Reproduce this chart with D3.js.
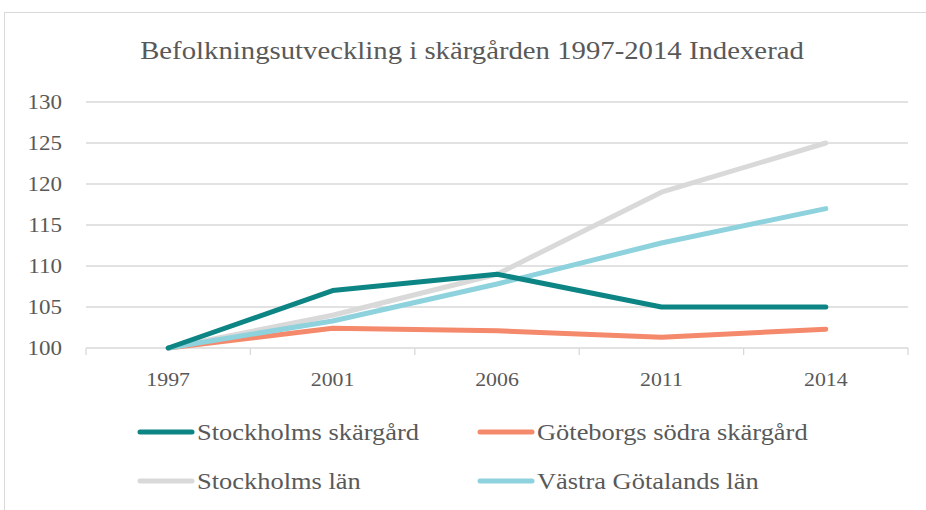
<!DOCTYPE html>
<html>
<head>
<meta charset="utf-8">
<script src="https://cdn.jsdelivr.net/npm/d3@7"></script>
<style>
  body { margin: 0; background: #fff; }
</style>
</head>
<body>
<div id="chart"></div>
<script>
const years = ["1997", "2001", "2006", "2011", "2014"];
const seriesNames = ["Stockholms skärgård", "Göteborgs södra skärgård", "Stockholms län", "Västra Götalands län"];
const stockholmsSkargard = [100, 107, 109, 105, 105];
const goteborgsSkargard = [100, 102.4, 102.1, 101.3, 102.3];
const stockholmsLan = [100, 104, 109, 119, 125];
const vastraGotaland = [100, 103.3, 107.8, 112.8, 117];
const yTicks = [100, 105, 110, 115, 120, 125, 130];
const colors = ["#0e8585", "#f4896b", "#d9d9d9", "#8dd2dc"];

const width = 926, height = 510;
const margin = { left: 86, right: 18, top: 102, bottom: 162 };
const FONT = "Liberation Serif";
const STRETCH = 1.15; // widen Liberation Serif toward the Palatino look
const TEXT_COLOR = "#595959";

const svg = d3.select("#chart").append("svg")
  .attr("width", width).attr("height", height)
  .style("display", "block");

// chart frame
svg.append("rect")
  .attr("x", 4.5).attr("y", 12.5)
  .attr("width", width + 10).attr("height", height + 10)
  .attr("fill", "none").attr("stroke", "#d9d9d9");

function label(sel, x, y, size, anchor) {
  return sel.append("text")
    .attr("transform", `translate(${x},${y}) scale(${STRETCH},1)`)
    .attr("text-anchor", anchor)
    .attr("font-family", FONT)
    .attr("font-size", size)
    .attr("fill", TEXT_COLOR);
}

label(svg, 472, 59, 25, "middle")
  .text("Befolkningsutveckling i skärgården 1997-2014 Indexerad");

const x = d3.scaleBand().domain(years).range([margin.left, width - margin.right]);
const y = d3.scaleLinear().domain([100, 130]).range([height - margin.bottom, margin.top]);

// gridlines
svg.append("g")
  .selectAll("line")
  .data(yTicks.slice(1))
  .join("line")
  .attr("x1", margin.left).attr("x2", width - margin.right)
  .attr("y1", d => y(d)).attr("y2", d => y(d))
  .attr("stroke", "#d9d9d9").attr("stroke-width", 1.3);

// y labels
const gy = svg.append("g");
yTicks.forEach(t => label(gy, 62, y(t) + 7, 20, "end").text(t));

// x axis baseline and boundary ticks
const gx = svg.append("g").attr("transform", `translate(0,${y(100)})`);
gx.append("line")
  .attr("x1", margin.left).attr("x2", width - margin.right)
  .attr("stroke", "#d9d9d9").attr("stroke-width", 1.3);

const boundaries = years.map(d => x(d)).concat([x.range()[1]]);
gx.selectAll("line.boundary")
  .data(boundaries)
  .join("line")
  .attr("class", "boundary")
  .attr("x1", d => d).attr("x2", d => d)
  .attr("y1", 0).attr("y2", 7)
  .attr("stroke", "#d9d9d9").attr("stroke-width", 1.3);

years.forEach(yr => label(gx, x(yr) + x.bandwidth() / 2, 38, 19, "middle").text(yr));

// lines
const allSeries = [stockholmsSkargard, goteborgsSkargard, stockholmsLan, vastraGotaland];
const line = d3.line()
  .x((d, i) => x(years[i]) + x.bandwidth() / 2)
  .y(d => y(d));

// draw order so the light lines sit under the teal one
const drawOrder = [1, 2, 3, 0];
svg.append("g")
  .selectAll("path")
  .data(drawOrder)
  .join("path")
  .attr("d", i => line(allSeries[i]))
  .attr("fill", "none")
  .attr("stroke", i => colors[i])
  .attr("stroke-width", 5)
  .attr("stroke-linecap", "round")
  .attr("stroke-linejoin", "round");

// legend
const legendPos = [[140, 432], [480, 432], [140, 481], [480, 481]];
const legend = svg.append("g")
  .selectAll("g")
  .data(seriesNames)
  .join("g")
  .attr("transform", (d, i) => `translate(${legendPos[i][0]},${legendPos[i][1]})`);

legend.append("line")
  .attr("x1", 0).attr("x2", 52)
  .attr("stroke", (d, i) => colors[i])
  .attr("stroke-width", 5)
  .attr("stroke-linecap", "round");

legend.each(function(d) {
  label(d3.select(this), 57, 8, 23, "start").text(d);
});
</script>
</body>
</html>
